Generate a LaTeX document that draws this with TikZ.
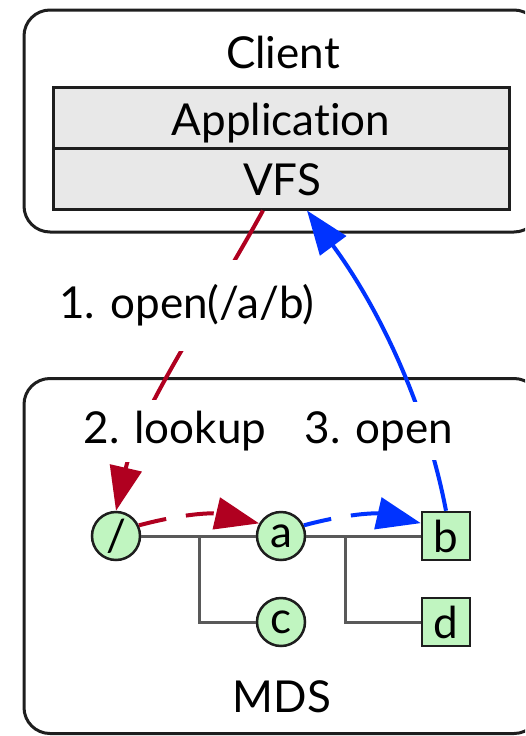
\documentclass[tikz,border=0pt]{standalone}
\usepackage{fontspec}
\setmainfont[Ligatures={NoCommon}]{Lato}
\usetikzlibrary{arrows.meta,calc}

\definecolor{callred}{RGB}{176,0,32}
\definecolor{callblue}{RGB}{0,51,255}
\definecolor{nodegreen}{RGB}{192,245,192}
\definecolor{layergray}{RGB}{232,232,232}
\definecolor{edgedark}{RGB}{30,30,30}

\tikzset{
  container/.style={draw=edgedark, line width=3pt, rounded corners=26pt},
  layer/.style={draw=edgedark, fill=layergray, line width=3pt,
    minimum width=456pt, minimum height=61pt, inner sep=0pt},
  dirnode/.style={circle, draw=edgedark, fill=nodegreen, line width=2.5pt,
    minimum size=48pt, inner sep=0pt},
  filenode/.style={rectangle, draw=edgedark, fill=nodegreen, line width=2.5pt,
    minimum size=48pt, inner sep=0pt},
  treeline/.style={draw=black!65, line width=3pt},
  callline/.style={line width=4pt},
  bigtip/.style={-{Triangle[length=44pt 0 0,width=32pt 0 0]}},
  dashline/.style={dash pattern=on 28pt off 20pt},
  masklabel/.style={fill=white, inner xsep=2pt, inner ysep=0pt},
}

\begin{document}
\begin{tikzpicture}[x=1pt, y=-1pt, font=\fontsize{44}{52}\selectfont]
  \clip (0,0) rectangle (525,736);
  \fill[white] (0,0) rectangle (525,736);

  % client host
  \node[container, minimum width=516pt, minimum height=222pt] (client) at (282,121) {};
  \node[anchor=base] (clientlbl) at (283,68) {Client};
  \node[layer] (app) at (281,117.5) {};
  \node[anchor=base] (applbl) at (281,135) {Application};
  \node[layer] (vfs) at (281,178.5) {};
  \node[anchor=base] (vfslbl) at (282,195) {VFS};

  % metadata server
  \node[container, minimum width=516pt, minimum height=355pt] (mds) at (282,556) {};
  \node[anchor=base] (mdslbl) at (282,712) {MDS};

  % namespace tree
  \node[dirnode] (root) at (116,536) {/};
  \node[dirnode] (a) at (281,536) {a};
  \node[filenode] (b) at (446,536) {b};
  \node[dirnode] (c) at (281,622) {c};
  \node[filenode] (d) at (446,622) {d};
  \coordinate (j1) at (199,536);
  \coordinate (j2) at (345,536);
  \draw[treeline] (root) -- (a);
  \draw[treeline] (a) -- (b);
  \draw[treeline] (j1) |- (c);
  \draw[treeline] (j2) |- (d);

  % request path: open goes to the MDS, lookup walks the tree
  \draw[callline, callred, bigtip] ([xshift=-18pt]vfs.south)
    .. controls +(-55,100) and +(23,-100) .. (root.north);
  \draw[callline, callblue, bigtip] (b.north)
    .. controls +(-19,-100) and +(74,100) .. ([xshift=26pt]vfs.south);

  \node[masklabel, minimum height=91pt] (open1) at (187,305) {1. open(/a/b)};
  \node[masklabel, minimum height=62pt] (lookup2) at (175,431) {2. lookup};
  \node[masklabel, minimum height=58pt] (open3) at (379,431) {3. open};

  \draw[callline, callred, dashline, bigtip] (root.25) to[bend left=14] (a.150);
  \draw[callline, callblue, dashline, bigtip] (a.25) to[bend left=14] (b.153);
\end{tikzpicture}
\end{document}
